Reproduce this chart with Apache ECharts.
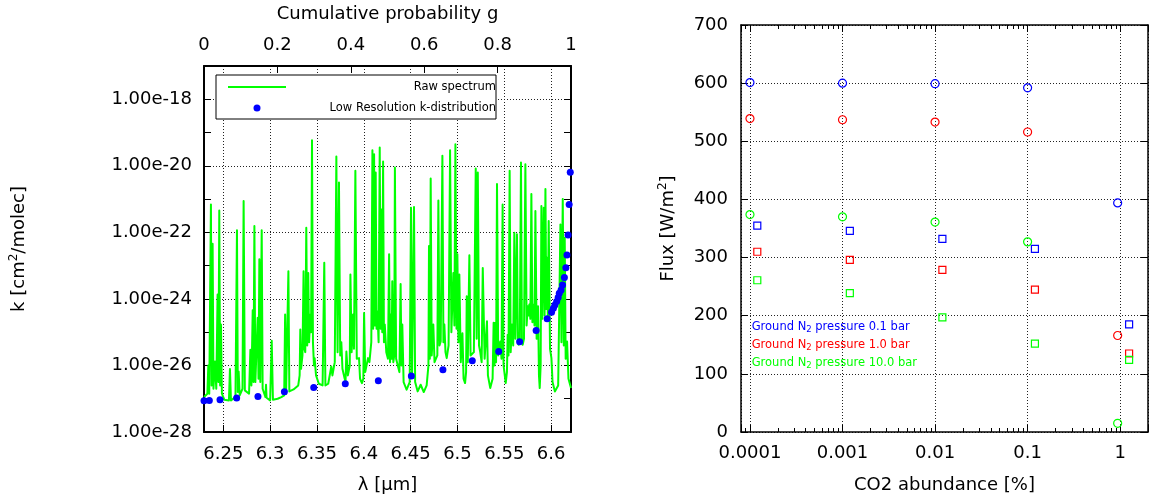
<!DOCTYPE html>
<html>
<head>
<meta charset="utf-8">
<script src="https://cdn.jsdelivr.net/npm/echarts@6/dist/echarts.min.js"></script>
<style>html,body{margin:0;padding:0;background:#fff}#c{width:1155px;height:502px}</style>
</head>
<body>
<div id="c"></div>
<script>
// ---------------- Left panel data ----------------
const lambdaRange = [6.2294, 6.6212];          // wavelength axis extent [µm]
const logKRange = [-28, -17];                  // log10 of absorption coefficient axis extent
const gRange = [0, 1];                         // cumulative probability axis
// Raw spectrum vertices: [wavelength µm, log10 k]
const rawSpectrum = [
 [6.2294,-26.95],[6.2330,-26.85],[6.2340,-26.0],[6.2350,-26.85],[6.2368,-21.16],[6.2375,-26.6],[6.2386,-22.34],[6.2395,-26.7],
 [6.2411,-25.88],[6.2425,-26.7],[6.2439,-23.87],[6.2448,-26.5],[6.2457,-21.34],[6.2466,-26.6],[6.2475,-24.77],[6.2485,-26.85],
 [6.2511,-27.03],[6.2560,-27.05],[6.2571,-26.11],[6.2582,-27.05],[6.2630,-26.95],[6.2646,-21.94],[6.2655,-26.8],[6.2664,-26.18],
 [6.2675,-26.9],[6.2705,-26.7],[6.2717,-21.06],[6.2730,-26.75],[6.2775,-26.85],[6.2789,-25.53],[6.2800,-26.6],[6.2814,-24.34],
 [6.2822,-26.5],[6.2832,-21.81],[6.2842,-26.5],[6.2867,-24.57],[6.2876,-26.4],[6.2885,-22.81],[6.2895,-26.5],[6.2910,-21.94],
 [6.2920,-26.7],[6.2950,-26.95],[6.2956,-26.58],[6.2962,-26.97],[6.3000,-27.05],[6.3017,-25.26],[6.3030,-27.03],[6.3080,-27.0],
 [6.3120,-26.95],[6.3150,-26.9],[6.3160,-24.47],[6.3170,-26.85],[6.3185,-26.82],[6.3195,-23.17],[6.3205,-26.78],[6.3250,-26.72],
 [6.3300,-26.6],[6.3315,-26.3],[6.3322,-24.92],[6.3330,-26.1],[6.3345,-25.7],[6.3357,-23.17],[6.3365,-25.5],[6.3375,-25.6],
 [6.3386,-21.86],[6.3396,-25.4],[6.3407,-23.22],[6.3416,-25.3],[6.3429,-24.47],[6.3437,-25.0],[6.3447,-19.23],[6.3457,-25.3],
 [6.3468,-26.0],[6.3475,-25.78],[6.3490,-26.3],[6.3520,-26.55],[6.3560,-26.6],[6.3578,-22.91],[6.3590,-26.6],[6.3620,-26.55],
 [6.3653,-26.03],[6.3665,-26.3],[6.3690,-25.9],[6.3707,-19.72],[6.3720,-25.6],[6.3735,-20.50],[6.3748,-25.7],[6.3760,-25.3],
 [6.3772,-26.1],[6.3796,-26.4],[6.3805,-26.48],[6.3814,-25.58],[6.3830,-26.3],[6.3850,-26.0],[6.3857,-23.27],[6.3870,-25.6],
 [6.3885,-24.47],[6.3895,-25.5],[6.3910,-20.15],[6.3925,-25.8],[6.3949,-25.78],[6.3960,-26.4],[6.3980,-26.53],[6.3995,-26.4],
 [6.4003,-24.42],[6.4015,-26.2],[6.4045,-25.78],[6.4060,-25.9],[6.4080,-25.3],[6.4092,-19.53],[6.4100,-24.9],[6.4110,-19.65],
 [6.4118,-24.8],[6.4127,-20.2],[6.4136,-24.9],[6.4145,-24.37],[6.4158,-25.3],[6.4170,-19.45],[6.4180,-24.9],[6.4188,-21.31],
 [6.4197,-25.0],[6.4206,-19.87],[6.4215,-25.3],[6.4224,-24.77],[6.4240,-25.6],[6.4258,-25.8],[6.4270,-22.66],[6.4280,-25.9],
 [6.4290,-24.47],[6.4297,-25.8],[6.4304,-23.47],[6.4315,-25.9],[6.4325,-25.7],[6.4332,-20.05],[6.4345,-25.8],[6.4380,-26.2],
 [6.4393,-23.55],[6.4402,-26.0],[6.4411,-24.77],[6.4425,-26.5],[6.4457,-26.73],[6.4490,-26.5],[6.4504,-21.26],[6.4515,-26.3],
 [6.4525,-26.3],[6.4536,-21.24],[6.4548,-26.5],[6.4575,-26.78],[6.4607,-26.58],[6.4640,-26.8],[6.4671,-26.6],[6.4690,-26.0],
 [6.4696,-22.41],[6.4705,-25.8],[6.4714,-20.38],[6.4725,-25.7],[6.4742,-24.77],[6.4755,-25.9],[6.4785,-25.7],[6.4796,-21.04],
 [6.4808,-25.4],[6.4821,-25.28],[6.4830,-25.3],[6.4839,-19.70],[6.4850,-25.3],[6.4860,-24.77],[6.4872,-25.6],[6.4885,-25.78],
 [6.4905,-25.4],[6.4921,-19.53],[6.4935,-25.0],[6.4956,-23.22],[6.4967,-24.8],[6.4978,-19.35],[6.4990,-24.9],[6.4999,-22.66],
 [6.5010,-25.3],[6.5020,-23.27],[6.5035,-25.9],[6.5053,-25.03],[6.5065,-26.4],[6.5081,-26.53],[6.5092,-26.2],[6.5099,-23.92],
 [6.5110,-25.9],[6.5127,-22.69],[6.5140,-25.7],[6.5152,-25.68],[6.5175,-25.6],[6.5195,-20.08],[6.5205,-25.2],[6.5217,-20.2],
 [6.5230,-25.4],[6.5242,-25.58],[6.5258,-25.9],[6.5270,-23.07],[6.5290,-25.8],[6.5315,-24.67],[6.5325,-26.3],[6.5350,-26.68],
 [6.5375,-26.4],[6.5386,-24.72],[6.5395,-26.0],[6.5404,-24.72],[6.5412,-25.9],[6.5422,-20.55],[6.5435,-25.7],[6.5457,-25.28],
 [6.5470,-25.8],[6.5482,-21.16],[6.5492,-26.0],[6.5504,-25.98],[6.5515,-26.53],[6.5528,-26.2],[6.5536,-25.08],[6.5545,-25.7],
 [6.5557,-20.15],[6.5568,-25.6],[6.5582,-24.77],[6.5595,-25.4],[6.5607,-22.01],[6.5618,-25.2],[6.5635,-22.06],[6.5645,-25.3],
 [6.5653,-25.38],[6.5665,-25.3],[6.5678,-19.90],[6.5688,-25.2],[6.5696,-25.38],[6.5710,-25.2],[6.5725,-19.95],[6.5738,-24.8],
 [6.5750,-24.22],[6.5758,-24.5],[6.5767,-24.17],[6.5778,-24.6],[6.5789,-20.85],[6.5800,-24.7],[6.5814,-24.17],[6.5822,-24.8],
 [6.5832,-21.36],[6.5845,-25.2],[6.5860,-24.22],[6.5870,-26.3],[6.5878,-26.68],[6.5888,-26.0],[6.5896,-21.21],[6.5905,-24.6],
 [6.5921,-21.26],[6.5930,-24.5],[6.5939,-20.70],[6.5948,-24.3],[6.5956,-22.76],[6.5965,-24.6],[6.5974,-21.66],[6.5988,-25.5],
 [6.6003,-25.78],[6.6015,-26.5],[6.6040,-26.78],[6.6075,-26.6],[6.6099,-21.76],[6.6110,-25.3],[6.6124,-21.00],[6.6135,-25.4],
 [6.6145,-22.16],[6.6155,-25.8],[6.6170,-25.28],[6.6185,-26.4],[6.6212,-26.68]
];
// Low resolution k-distribution (top axis g, log10 k)
const kdistG    = [0.000,0.0145,0.0436,0.089,0.147,0.219,0.299,0.385,0.475,0.565,0.651,0.731,0.803,0.860,0.905,
                   0.935,0.947,0.952,0.956,0.961,0.965,0.968,0.973,0.977,0.982,0.986,0.989,0.992,0.995,0.998];
const kdistLogK = [-27.06,-27.05,-27.03,-26.98,-26.93,-26.79,-26.66,-26.55,-26.46,-26.32,-26.13,-25.86,-25.58,-25.29,-24.95,
                   -24.60,-24.40,-24.28,-24.18,-24.08,-23.96,-23.83,-23.73,-23.58,-23.36,-23.06,-22.68,-22.08,-21.16,-20.19];
const leftNames = ['Raw spectrum', 'Low Resolution k-distribution'];

// ---------------- Right panel data ----------------
const co2Range = [0.00008, 2];
const co2TickLabels = ['0.0001', '0.001', '0.01', '0.1', '1'];
const co2Circles = [0.0001, 0.001, 0.01, 0.1, 0.94];
const co2Squares = [0.00012, 0.0012, 0.012, 0.12, 1.25];
const pressureNames = ['Ground N2 pressure 0.1 bar', 'Ground N2 pressure 1.0 bar', 'Ground N2 pressure 10.0 bar'];
const fluxCircle = [
  [601, 600, 599, 592, 394],   // 0.1 bar
  [539, 537, 533, 516, 166],   // 1.0 bar
  [374, 370, 361, 327, 15]     // 10.0 bar
];
const fluxSquare = [
  [355, 346, 332, 315, 185],
  [310, 296, 279, 245, 135],
  [261, 239, 197, 152, 124]
];
const pressureColors = ['#0000ff', '#ff0000', '#00ff00'];

// ---------------- Chart ----------------
const FONT = 'DejaVu Sans';
const BLACK = '#000000';
const lbl = (extra) => Object.assign({fontFamily: FONT, fontSize: 18, color: BLACK}, extra || {});
const dots = {color: '#222222', width: 1, type: [1, 2]};
const isMult = (v, step) => Math.abs(v / step - Math.round(v / step)) < 1e-6;
const isDecade = (v) => { const l = Math.log10(v); return Math.abs(l - Math.round(l)) < 1e-6; };

const chart = echarts.init(document.getElementById('c'));

const rightSeries = [];
pressureNames.forEach((name, i) => {
  rightSeries.push({
    type: 'scatter', name: name, xAxisIndex: 2, yAxisIndex: 2,
    data: co2Circles.map((x, j) => [x, fluxCircle[i][j]]),
    symbol: 'circle', symbolSize: 8,
    itemStyle: {color: 'rgba(0,0,0,0)', borderColor: pressureColors[i], borderWidth: 1.2, opacity: 1},
    clip: false, z: 3
  });
  rightSeries.push({
    type: 'scatter', name: name, xAxisIndex: 2, yAxisIndex: 2,
    data: co2Squares.map((x, j) => [x, fluxSquare[i][j]]),
    symbol: 'rect', symbolSize: 7,
    itemStyle: {color: 'rgba(0,0,0,0)', borderColor: pressureColors[i], borderWidth: 1.2, opacity: 1},
    clip: false, z: 3
  });
});

const option = {
  animation: false,
  backgroundColor: '#ffffff',
  textStyle: {fontFamily: FONT},
  grid: [
    {left: 204, top: 66, width: 367, height: 366},
    {left: 741, top: 25, width: 407, height: 407}
  ],
  legend: [
    {
      left: 216, top: 75, orient: 'vertical', selectedMode: false,
      data: [
        {name: leftNames[0], itemStyle: {color: 'rgba(0,0,0,0)', borderWidth: 0, opacity: 0}},
        {name: leftNames[1], icon: 'circle', itemStyle: {color: '#0000ff', opacity: 1}}
      ],
      itemWidth: 58, itemHeight: 7, itemGap: 9,
      padding: [6, 0, 5, 11],
      borderColor: BLACK, borderWidth: 1, borderRadius: 0, backgroundColor: '#ffffff',
      formatter: (n) => '{r|' + n + '}',
      textStyle: {rich: {r: {width: 205, align: 'right', fontFamily: FONT, fontSize: 11.5, lineHeight: 14, color: BLACK}}}
    },
    {
      left: 744.7, top: 321.5, orient: 'vertical', selectedMode: false,
      data: pressureNames.map((n, i) => ({name: n, textStyle: {color: pressureColors[i]}})),
      icon: 'rect', itemWidth: 1, itemHeight: 1, itemGap: 5, padding: 0,
      itemStyle: {opacity: 0},
      formatter: (n) => { const p = n.split('N2'); return '{a|' + p[0] + 'N}{s|2}{a|' + p[1] + '}'; },
      textStyle: {fontFamily: FONT, fontSize: 11.5, rich: {
        a: {fontFamily: FONT, fontSize: 11.5, lineHeight: 14},
        s: {fontFamily: FONT, fontSize: 8.5, lineHeight: 8, verticalAlign: 'bottom'}
      }}
    }
  ],
  xAxis: [
    { // wavelength, bottom of left panel
      type: 'value', gridIndex: 0, position: 'bottom',
      min: lambdaRange[0], max: lambdaRange[1], splitNumber: 8,
      name: 'λ [μm]', nameLocation: 'middle', nameGap: 44, nameTextStyle: lbl(),
      axisLine: {onZero: false, lineStyle: {color: BLACK, width: 2}},
      axisTick: {inside: true, length: 7, lineStyle: {color: BLACK, width: 1}},
      axisLabel: lbl({margin: 13, showMinLabel: false, showMaxLabel: false,
        formatter: (v) => isMult(v, 0.05) ? String(Math.round(v * 100) / 100) : ''}),
      splitLine: {show: true, lineStyle: dots}
    },
    { // cumulative probability, top of left panel
      type: 'value', gridIndex: 0, position: 'top',
      min: gRange[0], max: gRange[1], interval: 0.2,
      name: 'Cumulative probability g', nameLocation: 'middle', nameGap: 43, nameTextStyle: lbl(),
      axisLine: {onZero: false, lineStyle: {color: BLACK, width: 2}},
      axisTick: {inside: true, length: 7, lineStyle: {color: BLACK, width: 1}},
      axisLabel: lbl({margin: 12}),
      splitLine: {show: false}
    },
    { // CO2 abundance, bottom of right panel
      type: 'log', gridIndex: 1, position: 'bottom', logBase: 10,
      min: co2Range[0], max: co2Range[1],
      name: 'CO2 abundance [%]', nameLocation: 'middle', nameGap: 44, nameTextStyle: lbl(),
      axisLine: {onZero: false, lineStyle: {color: BLACK, width: 1.5}},
      axisTick: {inside: true, length: 7, lineStyle: {color: BLACK, width: 1}},
      minorTick: {show: true, splitNumber: 9, length: 4, lineStyle: {color: BLACK, width: 1}},
      axisLabel: lbl({margin: 12, showMinLabel: false, showMaxLabel: false,
        formatter: (v) => isDecade(v) ? (co2TickLabels[Math.round(Math.log10(v)) + 4] || '') : ''}),
      splitLine: {show: true, lineStyle: dots}
    },
    { // mirror top of right panel
      type: 'log', gridIndex: 1, position: 'top', logBase: 10,
      min: co2Range[0], max: co2Range[1],
      axisLine: {onZero: false, lineStyle: {color: BLACK, width: 1.5}},
      axisTick: {inside: true, length: 7, lineStyle: {color: BLACK, width: 1}},
      minorTick: {show: true, splitNumber: 9, length: 4, lineStyle: {color: BLACK, width: 1}},
      axisLabel: {show: false},
      splitLine: {show: false}
    }
  ],
  yAxis: [
    { // log10 k, left of left panel (labels written as powers of ten)
      type: 'value', gridIndex: 0, position: 'left',
      min: logKRange[0], max: logKRange[1], interval: 1,
      name: '{a|k [cm}{p|2}{a|/molec]}', nameLocation: 'middle', nameGap: 174,
      nameTextStyle: {rich: {
        a: {fontFamily: FONT, fontSize: 18, lineHeight: 22, color: BLACK},
        p: {fontFamily: FONT, fontSize: 12, lineHeight: 12, color: BLACK, verticalAlign: 'top'}
      }},
      axisLine: {onZero: false, lineStyle: {color: BLACK, width: 2}},
      axisTick: {inside: true, length: 7, lineStyle: {color: BLACK, width: 1}},
      axisLabel: lbl({margin: 12, showMaxLabel: false, formatter: (v) => {
        const l = Math.round(v);
        return (Math.abs(v - l) < 1e-6 && l % 2 === 0) ? Math.pow(10, l).toExponential(2) : '';
      }}),
      splitLine: {show: true, lineStyle: Object.assign({}, dots, {color: ['#222222', 'rgba(0,0,0,0)']})}
    },
    { // mirror right of left panel
      type: 'value', gridIndex: 0, position: 'right',
      min: logKRange[0], max: logKRange[1], interval: 1,
      axisLine: {onZero: false, lineStyle: {color: BLACK, width: 2}},
      axisTick: {inside: true, length: 7, lineStyle: {color: BLACK, width: 1}},
      axisLabel: {show: false}, splitLine: {show: false}
    },
    { // flux, left of right panel
      type: 'value', gridIndex: 1, position: 'left',
      min: 0, max: 700, interval: 100,
      name: '{a|Flux [W/m}{p|2}{a|]}', nameLocation: 'middle', nameGap: 62,
      nameTextStyle: {rich: {
        a: {fontFamily: FONT, fontSize: 18, lineHeight: 22, color: BLACK},
        p: {fontFamily: FONT, fontSize: 12, lineHeight: 12, color: BLACK, verticalAlign: 'top'}
      }},
      axisLine: {onZero: false, lineStyle: {color: BLACK, width: 1.5}},
      axisTick: {inside: true, length: 7, lineStyle: {color: BLACK, width: 1}},
      axisLabel: lbl({margin: 13}),
      splitLine: {show: true, lineStyle: dots}
    },
    { // mirror right of right panel
      type: 'value', gridIndex: 1, position: 'right',
      min: 0, max: 700, interval: 100,
      axisLine: {onZero: false, lineStyle: {color: BLACK, width: 1.5}},
      axisTick: {inside: true, length: 7, lineStyle: {color: BLACK, width: 1}},
      axisLabel: {show: false}, splitLine: {show: false}
    }
  ],
  series: [
    {
      type: 'line', name: leftNames[0], xAxisIndex: 0, yAxisIndex: 0,
      data: rawSpectrum.map((p) => [p[0], p[1]]),
      showSymbol: false, symbol: 'none', sampling: null,
      lineStyle: {color: '#00ff00', width: 2, join: 'round'},
      itemStyle: {color: '#00ff00'},
      z: 2
    },
    {
      type: 'scatter', name: leftNames[1], xAxisIndex: 1, yAxisIndex: 0,
      data: kdistG.map((g, i) => [g, kdistLogK[i]]),
      symbol: 'circle', symbolSize: 7,
      itemStyle: {color: '#0000ff', opacity: 1},
      clip: false, z: 3
    }
  ].concat(rightSeries)
};
chart.setOption(option);
</script>
</body>
</html>
